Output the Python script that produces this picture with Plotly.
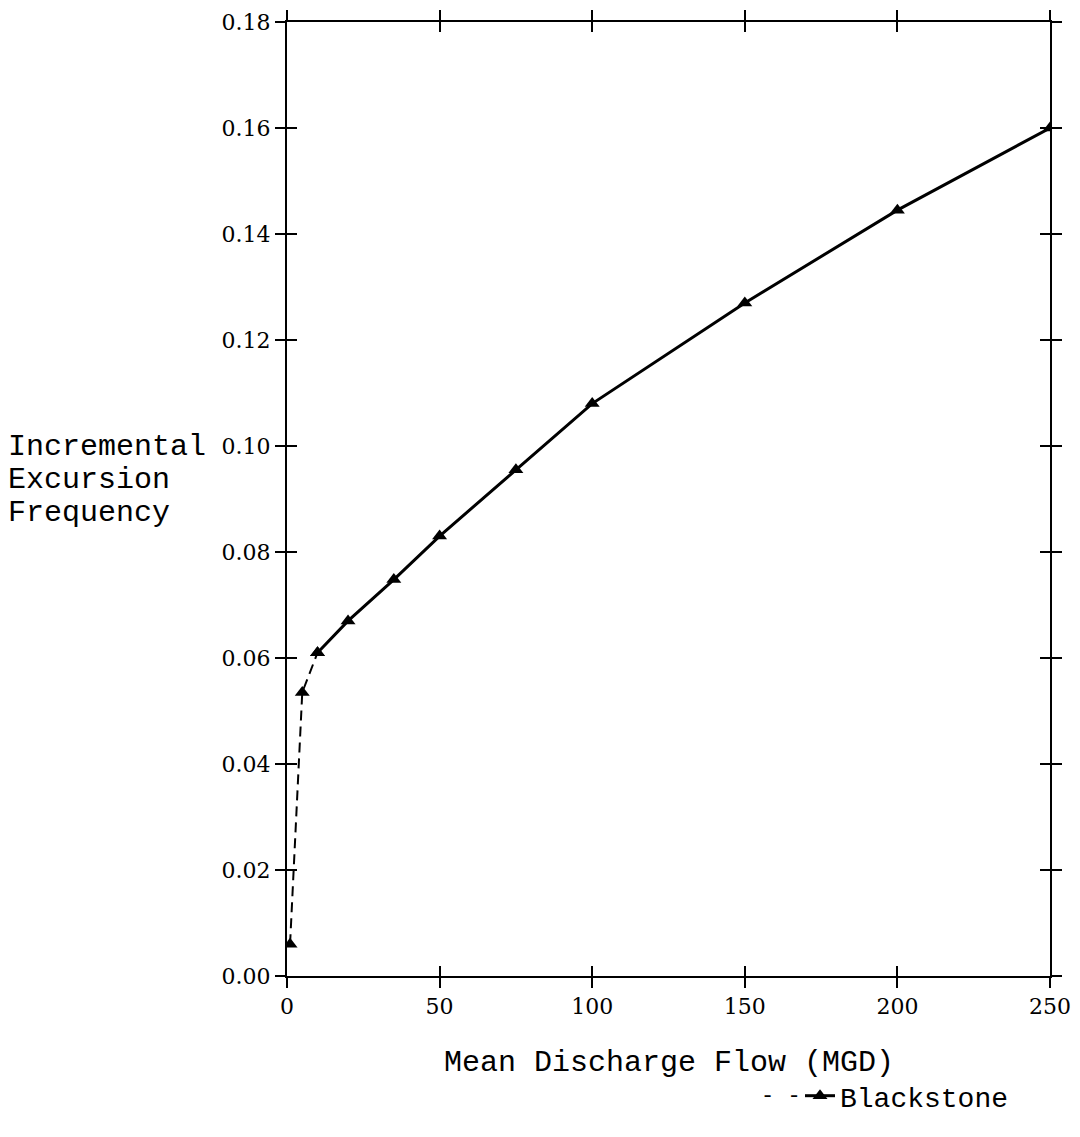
import plotly.graph_objects as go

flow = [1, 5, 10, 20, 35, 50, 75, 100, 150, 200, 250]
freq = [0.006, 0.0535, 0.061, 0.067, 0.0748, 0.083, 0.0955, 0.108, 0.127, 0.1445, 0.160]
n_dashed = 3  # first three points joined by a dashed line
series_name = "Blackstone"
x_title = "Mean Discharge Flow (MGD)"
y_title_lines = ["Incremental", "Excursion", "Frequency"]
x_ticks = [0, 50, 100, 150, 200, 250]
y_ticks = [0.00, 0.02, 0.04, 0.06, 0.08, 0.10, 0.12, 0.14, 0.16, 0.18]

W, H = 1080, 1137
OFF = 8  # page body margin
L, T = 287 - OFF, 22 - OFF
R = W - (1050 - OFF)
B = H - (976 - OFF)
pw, ph = W - L - R, H - T - B

mono = "Liberation Mono, Courier New, monospace"
serif = "DejaVu Serif, Liberation Serif, serif"

fig = go.Figure()
fig.add_trace(go.Scatter(
    x=flow[:n_dashed], y=freq[:n_dashed], mode="lines+markers",
    line=dict(color="black", width=2, dash="10px,6px"),
    marker=dict(symbol="triangle-up", size=13, color="black"),
    showlegend=False, hoverinfo="x+y"))
fig.add_trace(go.Scatter(
    x=flow[n_dashed - 1:], y=freq[n_dashed - 1:], mode="lines+markers",
    line=dict(color="black", width=3),
    marker=dict(symbol="triangle-up", size=13, color="black"),
    name=series_name, showlegend=True))
# invisible trace on overlay axes so inner ticks are drawn
fig.add_trace(go.Scatter(x=flow, y=freq, xaxis="x2", yaxis="y2", mode="markers",
                         marker=dict(opacity=0), showlegend=False, hoverinfo="skip"))

axis_common = dict(showgrid=False, zeroline=False, showline=True, linecolor="black",
                   linewidth=2, mirror="allticks", tickcolor="black", ticklen=10, tickwidth=2)


def sx2p(sx):
    return (sx - OFF - L) / pw


def sy2p(sy):
    return (T + ph - (sy - OFF)) / ph


fig.update_layout(
    width=W, height=H,
    margin=dict(l=L, r=R, t=T, b=B, autoexpand=False),
    plot_bgcolor="white", paper_bgcolor="white",
    xaxis=dict(range=[0, 250], tickvals=x_ticks, ticktext=[str(v) for v in x_ticks],
               ticks="outside", tickfont=dict(family=serif, size=22, color="black"),
               **axis_common),
    yaxis=dict(range=[0, 0.18], tickvals=y_ticks, ticktext=[f"{v:.2f}" for v in y_ticks],
               ticks="outside", tickfont=dict(family=serif, size=22, color="black"),
               **axis_common),
    xaxis2=dict(range=[0, 250], tickvals=x_ticks, showticklabels=False, overlaying="x",
                ticks="inside", **axis_common),
    yaxis2=dict(range=[0, 0.18], tickvals=y_ticks, showticklabels=False, overlaying="y",
                ticks="inside", **axis_common),
    legend=dict(x=sx2p(800), y=sy2p(1096), xanchor="left", yanchor="middle",
                font=dict(family=mono, size=28, color="black"), bgcolor="rgba(0,0,0,0)",
                itemwidth=30),
    showlegend=True,
)

for i, line in enumerate(y_title_lines):
    fig.add_annotation(text=line, xref="paper", yref="paper", x=sx2p(6), y=sy2p(447 + 33 * i),
                       xanchor="left", yanchor="middle", showarrow=False,
                       font=dict(family=mono, size=30, color="black"))
fig.add_annotation(text=x_title, xref="paper", yref="paper", x=sx2p(669), y=sy2p(1063),
                   xanchor="center", yanchor="middle", showarrow=False,
                   font=dict(family=mono, size=30, color="black"))
fig.add_annotation(text="- -", xref="paper", yref="paper", x=sx2p(803), y=sy2p(1096),
                   xanchor="right", yanchor="middle", showarrow=False,
                   font=dict(family=mono, size=22, color="black"))

fig.write_html("out.html")
